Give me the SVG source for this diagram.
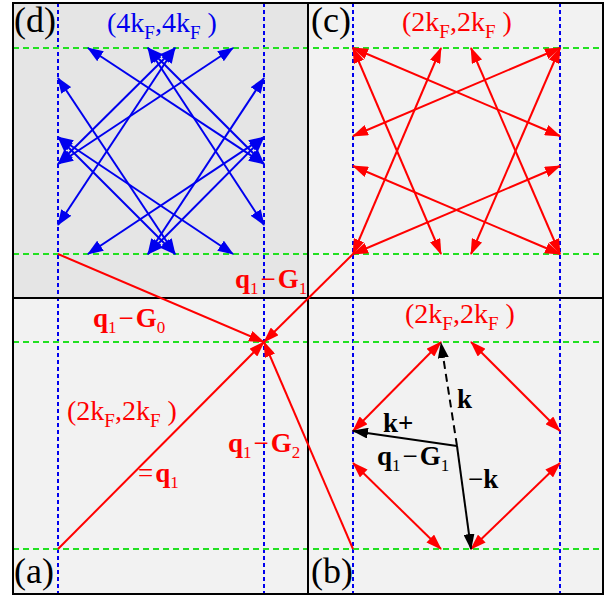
<svg xmlns="http://www.w3.org/2000/svg" width="613" height="597" viewBox="0 0 613 597">
<style>
.bg{stroke:none}
.frame{fill:none;stroke:#000;stroke-width:2}
.vb{stroke:#0000ee;stroke-width:2;stroke-dasharray:4 3}
.hg{stroke:#22e022;stroke-width:2;stroke-dasharray:6 4}
.r{stroke:#ff0000;stroke-width:2;fill:none}
.b{stroke:#0000ee;stroke-width:2;fill:none}
.k{stroke:#000;stroke-width:2;fill:none}
.dbl-r{marker-start:url(#mr);marker-end:url(#mr)}
.dbl-b{marker-start:url(#mb);marker-end:url(#mb)}
.end-r{marker-end:url(#mr)}
.end-k{marker-end:url(#mk)}
.lab{font-size:36px;fill:#000}
.kf{font-size:28px}
.bl{font-size:27px}
.bb{font-weight:bold}
</style>
<defs>
<marker id="mr" viewBox="0 0 16 11" refX="15" refY="5.5" markerWidth="16" markerHeight="11" markerUnits="userSpaceOnUse" orient="auto-start-reverse"><path d="M0,0 L16,5.5 L0,11 z" fill="#ff0000"/></marker>
<marker id="mb" viewBox="0 0 16 12" refX="15" refY="6" markerWidth="16" markerHeight="12" markerUnits="userSpaceOnUse" orient="auto-start-reverse"><path d="M0,0 L16,6 L0,12 z" fill="#0000ee"/></marker>
<marker id="mk" viewBox="0 0 16 11" refX="15" refY="5.5" markerWidth="16" markerHeight="11" markerUnits="userSpaceOnUse" orient="auto-start-reverse"><path d="M0,0 L16,5.5 L0,11 z" fill="#000"/></marker>
</defs>

<g id="panels">
<rect class="bg" x="13" y="3" width="295" height="295" fill="#e5e5e5"/>
<rect class="bg" x="308" y="3" width="295" height="295" fill="#f2f2f2"/>
<rect class="bg" x="13" y="298" width="295" height="296" fill="#f2f2f2"/>
<rect class="bg" x="308" y="298" width="295" height="296" fill="#f2f2f2"/>
</g>

<g id="grid">
<line class="vb" x1="58" y1="3" x2="58" y2="594"/>
<line class="vb" x1="264" y1="3" x2="264" y2="594"/>
<line class="vb" x1="353" y1="3" x2="353" y2="594"/>
<line class="vb" x1="560" y1="3" x2="560" y2="594"/>
<line class="hg" x1="13" y1="48" x2="603" y2="48"/>
<line class="hg" x1="13" y1="254" x2="603" y2="254"/>
<line class="hg" x1="13" y1="342" x2="603" y2="342"/>
<line class="hg" x1="13" y1="549" x2="603" y2="549"/>
</g>

<g id="frames">
<rect class="frame" x="13" y="3" width="590" height="591"/>
<line class="frame" x1="308" y1="3" x2="308" y2="594"/>
<line class="frame" x1="13" y1="298" x2="603" y2="298"/>
</g>

<g id="connectors">
<line class="b dbl-b" x1="58" y1="164" x2="175" y2="48"/>
<line class="b dbl-b" x1="148" y1="48" x2="264" y2="164"/>
<line class="b dbl-b" x1="58" y1="137" x2="175" y2="254"/>
<line class="b dbl-b" x1="148" y1="254" x2="264" y2="137"/>
<line class="b dbl-b" x1="88" y1="48" x2="264" y2="164"/>
<line class="b dbl-b" x1="233" y1="48" x2="58" y2="164"/>
<line class="b dbl-b" x1="88" y1="254" x2="264" y2="137"/>
<line class="b dbl-b" x1="233" y1="254" x2="58" y2="137"/>
<line class="b dbl-b" x1="58" y1="78" x2="175" y2="254"/>
<line class="b dbl-b" x1="264" y1="78" x2="148" y2="254"/>
<line class="b dbl-b" x1="58" y1="225" x2="175" y2="48"/>
<line class="b dbl-b" x1="264" y1="225" x2="148" y2="48"/>
<line class="r dbl-r" x1="353" y1="48" x2="560" y2="136"/>
<line class="r dbl-r" x1="353" y1="48" x2="441" y2="254"/>
<line class="r dbl-r" x1="560" y1="48" x2="353" y2="136"/>
<line class="r dbl-r" x1="560" y1="48" x2="471" y2="254"/>
<line class="r dbl-r" x1="353" y1="254" x2="441" y2="48"/>
<line class="r dbl-r" x1="353" y1="254" x2="560" y2="166"/>
<line class="r dbl-r" x1="560" y1="254" x2="471" y2="48"/>
<line class="r dbl-r" x1="560" y1="254" x2="353" y2="166"/>
<line class="r end-r" x1="58" y1="549" x2="264" y2="342"/>
<line class="r end-r" x1="58" y1="254" x2="264" y2="342"/>
<line class="r end-r" x1="353" y1="254" x2="264" y2="342"/>
<line class="r end-r" x1="353" y1="549" x2="264" y2="342"/>
<line class="r dbl-r" x1="441" y1="342" x2="353" y2="431"/>
<line class="r dbl-r" x1="471" y1="342" x2="560" y2="431"/>
<line class="r dbl-r" x1="353" y1="463" x2="441" y2="549"/>
<line class="r dbl-r" x1="560" y1="463" x2="471" y2="549"/>
<line class="k end-k" x1="457" y1="446" x2="441" y2="343" stroke-dasharray="8 5"/>
<line class="k end-k" x1="457" y1="446" x2="353" y2="431"/>
<line class="k end-k" x1="457" y1="446" x2="471" y2="549"/>
</g>

<g id="labels" font-family="Liberation Serif, DejaVu Serif, serif">
<text class="lab" x="14" y="32">(d)</text>
<text class="lab" x="311" y="32">(c)</text>
<text class="lab" x="14" y="583">(a)</text>
<text class="lab" x="311" y="583">(b)</text>

<text class="kf" x="107" y="32" fill="#0000ee">(4k<tspan dy="7" font-size="19">F</tspan><tspan dy="-7">,4k</tspan><tspan dy="7" font-size="19">F</tspan><tspan dy="-7"> )</tspan></text>
<text class="kf" x="402" y="31" fill="#ff0000">(2k<tspan dy="7" font-size="19">F</tspan><tspan dy="-7">,2k</tspan><tspan dy="7" font-size="19">F</tspan><tspan dy="-7"> )</tspan></text>
<text class="kf" x="405" y="323" fill="#ff0000">(2k<tspan dy="7" font-size="19">F</tspan><tspan dy="-7">,2k</tspan><tspan dy="7" font-size="19">F</tspan><tspan dy="-7"> )</tspan></text>
<text class="kf" x="67" y="420" fill="#ff0000">(2k<tspan dy="7" font-size="19">F</tspan><tspan dy="-7">,2k</tspan><tspan dy="7" font-size="19">F</tspan><tspan dy="-7"> )</tspan></text>

<text class="bl" x="138" y="482" fill="#ff0000">=<tspan class="bb" dx="2">q</tspan><tspan dy="6" font-size="17">1</tspan></text>
<text class="bl" x="93" y="327" fill="#ff0000"><tspan class="bb">q</tspan><tspan dy="6" font-size="17">1</tspan><tspan dy="-6" dx="2">−</tspan><tspan class="bb" dx="2">G</tspan><tspan dy="6" font-size="17">0</tspan></text>
<text class="bl" x="235" y="288" fill="#ff0000"><tspan class="bb">q</tspan><tspan dy="6" font-size="17">1</tspan><tspan dy="-6" dx="2">−</tspan><tspan class="bb" dx="2">G</tspan><tspan dy="6" font-size="17">1</tspan></text>
<text class="bl" x="228" y="452" fill="#ff0000"><tspan class="bb">q</tspan><tspan dy="6" font-size="17">1</tspan><tspan dy="-6" dx="2">−</tspan><tspan class="bb" dx="2">G</tspan><tspan dy="6" font-size="17">2</tspan></text>

<text class="bl bb" x="457" y="408" fill="#000">k</text>
<text class="bl bb" x="383" y="432" fill="#000">k+</text>
<text class="bl" x="377" y="465" fill="#000"><tspan class="bb">q</tspan><tspan dy="6" font-size="17">1</tspan><tspan dy="-6" dx="2">−</tspan><tspan class="bb" dx="2">G</tspan><tspan dy="6" font-size="17">1</tspan></text>
<text class="bl" x="468" y="488" fill="#000">−<tspan class="bb">k</tspan></text>
</g>
</svg>
